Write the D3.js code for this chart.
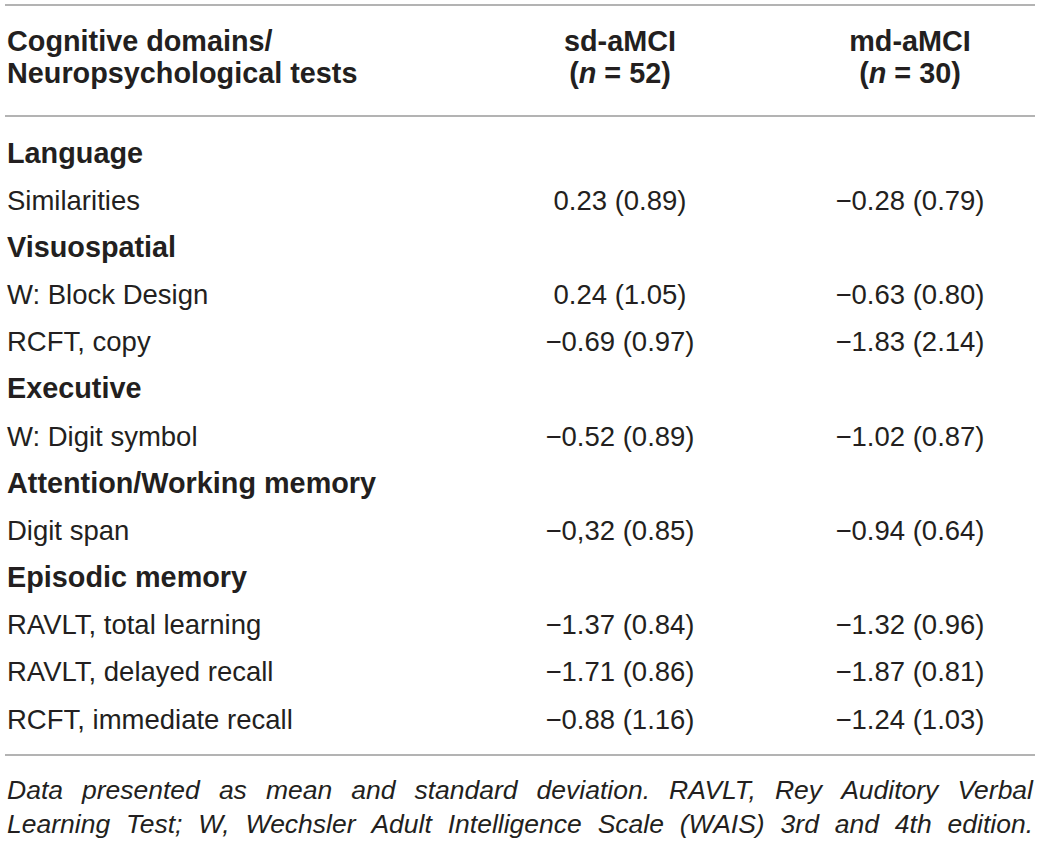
<!DOCTYPE html>
<html>
<head>
<meta charset="utf-8">
<script src="https://cdn.jsdelivr.net/npm/d3@7"></script>
<style>
  body { margin:0; background:#fff; }
  svg { display:block; font-family:"Liberation Sans", Arial, sans-serif; }
</style>
</head>
<body>
<svg id="chart"></svg>
<script>
const width = 1040
const height = 841

// table content
const rowLabels = ['Language','Similarities','Visuospatial','W: Block Design','RCFT, copy','Executive',
  'W: Digit symbol','Attention/Working memory','Digit span','Episodic memory',
  'RAVLT, total learning','RAVLT, delayed recall','RCFT, immediate recall']
const domainRows = ['Language','Visuospatial','Executive','Attention/Working memory','Episodic memory']
const sdValues = [null,'0.23 (0.89)',null,'0.24 (1.05)','\u22120.69 (0.97)',null,'\u22120.52 (0.89)',null,
  '\u22120,32 (0.85)',null,'\u22121.37 (0.84)','\u22121.71 (0.86)','\u22120.88 (1.16)']
const mdValues = [null,'\u22120.28 (0.79)',null,'\u22120.63 (0.80)','\u22121.83 (2.14)',null,'\u22121.02 (0.87)',null,
  '\u22120.94 (0.64)',null,'\u22121.32 (0.96)','\u22121.87 (0.81)','\u22121.24 (1.03)']
const groups = ['sd-aMCI','md-aMCI']
const groupN = [52, 30]
const headerLines = ['Cognitive domains/','Neuropsychological tests']
const footnote = ['Data presented as mean and standard deviation. RAVLT, Rey Auditory Verbal',
  'Learning Test; W, Wechsler Adult Intelligence Scale (WAIS) 3rd and 4th edition.']

const textColor = '#231f20'
const ruleColor = '#9a9a9a'

const svg = d3.select('#chart').attr('width',width).attr('height',height)

// columns: label, sd, md
const X = d3.scaleOrdinal().domain(['label','sd','md']).range([7,620,910])
// rows -> baseline
const Y = d3.scaleLinear().domain([0,rowLabels.length-1]).range([162.5,728.5])

// rules
const rules = [5,116,755]
svg.append('g').selectAll('line').data(rules).enter().append('line')
  .attr('x1',5).attr('x2',1035)
  .attr('y1',d=>d).attr('y2',d=>d)
  .attr('stroke',ruleColor).attr('stroke-width',1.6)

// header
const head = svg.append('g').attr('fill',textColor).attr('font-weight','bold').attr('font-size',28.8)
head.selectAll('text.h').data(headerLines).enter().append('text')
  .attr('x',X('label')).attr('y',(d,i)=>51+i*32).text(d=>d)

const cols = ['sd','md']
groups.forEach((g,i)=>{
  head.append('text').attr('x',X(cols[i])).attr('y',51).attr('text-anchor','middle').text(g)
  const t = head.append('text').attr('x',X(cols[i])).attr('y',83).attr('text-anchor','middle')
  t.append('tspan').text('(')
  t.append('tspan').attr('font-style','italic').text('n')
  t.append('tspan').text(' = '+groupN[i]+')')
})

// body rows
const body = svg.append('g').attr('fill',textColor)
body.selectAll('text.lab').data(rowLabels).enter().append('text')
  .attr('class','lab')
  .attr('x',X('label')).attr('y',(d,i)=>Y(i))
  .attr('font-weight',d=>domainRows.includes(d)?'bold':'normal')
  .attr('font-size',d=>domainRows.includes(d)?28.8:27.5)
  .text(d=>d)

;[[sdValues,'sd'],[mdValues,'md']].forEach(([vals,c])=>{
  body.selectAll('text.v'+c).data(vals.map((v,i)=>({v,i})).filter(d=>d.v)).enter().append('text')
    .attr('class','v'+c)
    .attr('x',X(c)).attr('y',d=>Y(d.i))
    .attr('text-anchor','middle').attr('font-size',27.5)
    .text(d=>d.v)
})

// footnote, justified by word spacing
const foot = svg.append('g').attr('fill',textColor).attr('font-style','italic').attr('font-size',26.5)
const left = 7, right = 1033
footnote.forEach((line,li)=>{
  const words = line.split(' ')
  const ws = foot.selectAll('text.w'+li).data(words).enter().append('text')
    .attr('class','w'+li).attr('y',799+li*34).text(d=>d)
  const lens = ws.nodes().map(n=>n.getComputedTextLength())
  const gap = (right-left-d3.sum(lens))/(words.length-1)
  let x = left
  ws.attr('x',(d,i)=>{ const p = x; x += lens[i]+gap; return p })
})
</script>
</body>
</html>
